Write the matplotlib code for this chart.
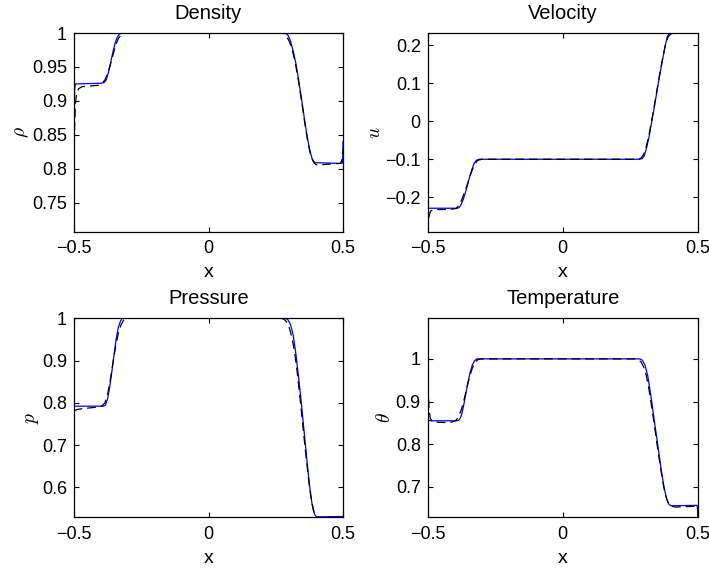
import numpy as np
import matplotlib
matplotlib.use("Agg")
import matplotlib.pyplot as plt

plt.rcParams['font.family'] = ['Liberation Sans', 'DejaVu Sans']
plt.rcParams['mathtext.fontset'] = 'cm'

# ---------------- Density ----------------
rho_blue_x = [-0.5, -0.4995, -0.498, -0.495, -0.40, -0.388, -0.38, -0.372, -0.364, -0.356, -0.348,
              -0.34, -0.332, -0.324, 0.285, 0.295, 0.305, 0.315, 0.325, 0.335, 0.345, 0.355,
              0.365, 0.375, 0.385, 0.393, 0.40, 0.497, 0.4995, 0.5]
rho_blue_y = [0.82, 0.88, 0.915, 0.925, 0.926, 0.927, 0.931, 0.942, 0.956, 0.971, 0.984,
              0.993, 0.998, 1.0, 1.0, 0.997, 0.988, 0.973, 0.955, 0.931, 0.905, 0.878,
              0.852, 0.83, 0.815, 0.810, 0.809, 0.808, 0.82, 0.84]
rho_ref_x = [-0.5, -0.498, -0.495, -0.49, -0.483, -0.47, -0.44, -0.41, -0.395, -0.385, -0.375,
             -0.365, -0.355, -0.345, -0.335, -0.325, -0.31, 0.27, 0.28, 0.29, 0.30, 0.31,
             0.32, 0.33, 0.34, 0.35, 0.36, 0.37, 0.38, 0.39, 0.40, 0.42, 0.45, 0.49, 0.495, 0.5]
rho_ref_y = [0.815, 0.86, 0.895, 0.912, 0.918, 0.921, 0.922, 0.923, 0.926, 0.931, 0.94,
             0.953, 0.968, 0.982, 0.992, 0.997, 1.0, 1.0, 0.999, 0.995, 0.988, 0.977,
             0.961, 0.94, 0.915, 0.889, 0.862, 0.838, 0.82, 0.81, 0.806, 0.806, 0.807, 0.808, 0.812, 0.828]

# ---------------- Velocity ----------------
u_blue_x = [-0.5, -0.39, -0.383, -0.376, -0.368, -0.36, -0.352, -0.344, -0.336, -0.328, -0.32, -0.31,
            0.285, 0.295, 0.302, 0.31, 0.32, 0.33, 0.34, 0.35, 0.36, 0.37, 0.38, 0.387, 0.393, 0.40, 0.5]
u_blue_y = [-0.229, -0.229, -0.227, -0.219, -0.205, -0.187, -0.166, -0.145, -0.126, -0.111, -0.103, -0.100,
            -0.100, -0.098, -0.091, -0.072, -0.040, 0.000, 0.040, 0.083, 0.125, 0.163, 0.200, 0.222, 0.230, 0.232, 0.232]
u_ref_x = [-0.5, -0.495, -0.49, -0.48, -0.42, -0.395, -0.385, -0.375, -0.365, -0.355, -0.345, -0.335,
           -0.325, -0.315, -0.30, 0.28, 0.29, 0.30, 0.31, 0.32, 0.33, 0.34, 0.35, 0.36, 0.37, 0.38,
           0.39, 0.40, 0.42, 0.5]
u_ref_y = [-0.29, -0.25, -0.237, -0.233, -0.232, -0.23, -0.222, -0.208, -0.19, -0.17, -0.148, -0.128,
           -0.112, -0.103, -0.1, -0.1, -0.097, -0.087, -0.065, -0.034, 0.004, 0.044, 0.086, 0.127, 0.165, 0.2,
           0.222, 0.23, 0.233, 0.232]

# ---------------- Pressure ----------------
p_blue_x = [-0.5, -0.39, -0.383, -0.375, -0.367, -0.359, -0.351, -0.343, -0.335, -0.327, -0.32,
            0.285, 0.295, 0.305, 0.315, 0.325, 0.335, 0.345, 0.355, 0.365, 0.375, 0.385, 0.395, 0.402, 0.5]
p_blue_y = [0.792, 0.792, 0.795, 0.81, 0.838, 0.875, 0.915, 0.952, 0.979, 0.994, 1.0,
            1.0, 0.997, 0.985, 0.96, 0.915, 0.86, 0.8, 0.735, 0.67, 0.607, 0.56, 0.535, 0.53, 0.531]
p_ref_x = [-0.5, -0.49, -0.47, -0.44, -0.41, -0.395, -0.385, -0.375, -0.365, -0.355, -0.345, -0.335,
           -0.325, -0.315, -0.305, 0.27, 0.28, 0.29, 0.30, 0.31, 0.32, 0.33, 0.34, 0.35, 0.36, 0.37,
           0.38, 0.39, 0.40, 0.42, 0.5]
p_ref_y = [0.78, 0.784, 0.786, 0.788, 0.79, 0.793, 0.8, 0.82, 0.855, 0.895, 0.935, 0.965,
           0.985, 0.996, 1.0, 1.0, 0.998, 0.992, 0.978, 0.955, 0.92, 0.872, 0.812, 0.75, 0.688, 0.63,
           0.58, 0.545, 0.53, 0.528, 0.529]

# ---------------- Temperature ----------------
T_blue_x = [-0.5, -0.4995, -0.499, -0.497, -0.49, -0.39, -0.382, -0.375, -0.367, -0.359, -0.351, -0.343,
            -0.335, -0.327, -0.318, 0.285, 0.295, 0.305, 0.315, 0.325, 0.335, 0.345, 0.355, 0.365,
            0.375, 0.385, 0.393, 0.40, 0.498, 0.4995, 0.5]
T_blue_y = [0.975, 0.93, 0.875, 0.856, 0.855, 0.855, 0.858, 0.868, 0.89, 0.918, 0.945, 0.968,
            0.985, 0.995, 1.0, 1.0, 0.997, 0.985, 0.96, 0.92, 0.875, 0.83, 0.785, 0.74,
            0.7, 0.672, 0.66, 0.656, 0.657, 0.645, 0.63]
T_ref_x = [-0.5, -0.498, -0.495, -0.49, -0.48, -0.44, -0.41, -0.395, -0.385, -0.375, -0.365, -0.355,
           -0.345, -0.335, -0.325, -0.315, -0.3, 0.27, 0.28, 0.29, 0.30, 0.31, 0.32, 0.33, 0.34,
           0.35, 0.36, 0.37, 0.38, 0.39, 0.40, 0.42, 0.5]
T_ref_y = [0.97, 0.92, 0.88, 0.86, 0.852, 0.851, 0.852, 0.856, 0.865, 0.882, 0.905, 0.932,
           0.958, 0.978, 0.991, 0.998, 1.0, 1.0, 0.998, 0.993, 0.981, 0.96, 0.927, 0.886, 0.842,
           0.798, 0.755, 0.715, 0.682, 0.664, 0.655, 0.653, 0.655]

titles = ["Density", "Velocity", "Pressure", "Temperature"]
ylabels = [r"$\rho$", r"$u$", r"$p$", r"$\theta$"]
xticks = [-0.5, 0, 0.5]
xticklabels = ["\u22120.5", "0", "0.5"]
yticks = [[0.75, 0.8, 0.85, 0.9, 0.95, 1.0],
          [-0.2, -0.1, 0.0, 0.1, 0.2],
          [0.6, 0.7, 0.8, 0.9, 1.0],
          [0.7, 0.8, 0.9, 1.0]]
yticklabels = [["0.75", "0.8", "0.85", "0.9", "0.95", "1"],
               ["\u22120.2", "\u22120.1", "0", "0.1", "0.2"],
               ["0.6", "0.7", "0.8", "0.9", "1"],
               ["0.7", "0.8", "0.9", "1"]]
ylims = [(0.707, 1.0), (-0.2916, 0.2326), (0.529, 1.0), (0.629, 1.095)]

blue = [(rho_blue_x, rho_blue_y), (u_blue_x, u_blue_y), (p_blue_x, p_blue_y), (T_blue_x, T_blue_y)]
ref = [(rho_ref_x, rho_ref_y), (u_ref_x, u_ref_y), (p_ref_x, p_ref_y), (T_ref_x, T_ref_y)]

W, H = 709, 572
fig = plt.figure(figsize=(W / 100, H / 100), dpi=100)
positions = [(74, 33, 343, 232), (427.7, 33, 697.7, 232),
             (74, 318.3, 343, 517.3), (427.7, 318.3, 697.7, 517.3)]

for i in range(4):
    x0, y0, x1, y1 = positions[i]
    ax = fig.add_axes([x0 / W, 1 - y1 / H, (x1 - x0) / W, (y1 - y0) / H])
    ax.plot(blue[i][0], blue[i][1], color='#0000ff', lw=0.9)
    ax.plot(ref[i][0], ref[i][1], color='black', lw=0.9, ls=(0, (7, 4)))
    ax.set_xlim(-0.5, 0.5)
    ax.set_ylim(*ylims[i])
    ax.set_xticks(xticks)
    ax.set_xticklabels(xticklabels)
    ax.set_yticks(yticks[i])
    ax.set_yticklabels(yticklabels[i])
    ax.tick_params(direction='in', top=True, right=True, length=3.5, width=0.8,
                   labelsize=13, pad=5, colors='black')
    ax.tick_params(axis='x', pad=6)
    for s in ax.spines.values():
        s.set_linewidth(0.9)
    ax.set_title(titles[i], fontsize=14.5, pad=10)
    ax.set_xlabel("x", fontsize=14, labelpad=5)
    ax.set_ylabel(ylabels[i], fontsize=14, labelpad=1)

fig.savefig("out.png", dpi=100)
